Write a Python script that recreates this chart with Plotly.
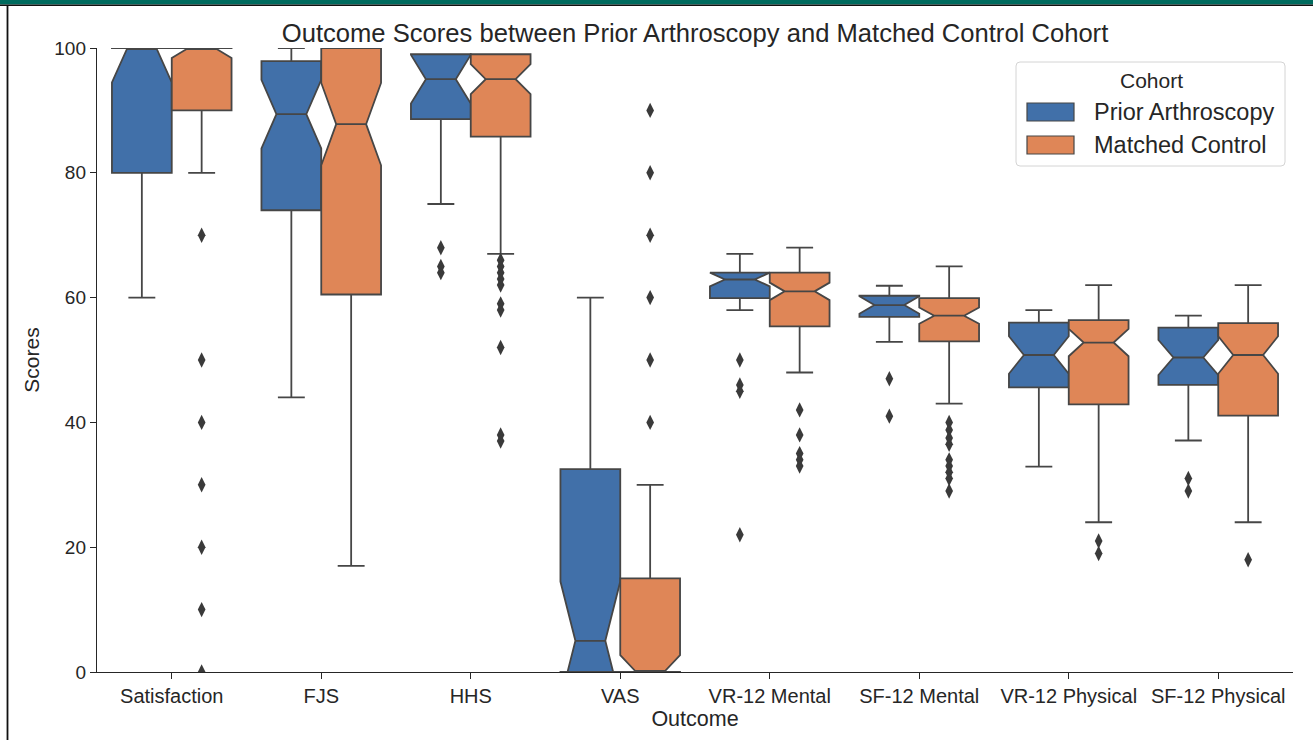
import plotly.graph_objects as go

categories = ["Satisfaction", "FJS", "HHS", "VAS", "VR-12 Mental", "SF-12 Mental",
              "VR-12 Physical", "SF-12 Physical"]
cohorts = ["Prior Arthroscopy", "Matched Control"]

# Prior Arthroscopy box statistics
pa_q1 = [80, 74, 88.6, 0, 59.9, 56.9, 45.6, 46.0]
pa_median = [100, 89.4, 95.0, 5.0, 62.9, 58.8, 50.8, 50.4]
pa_q3 = [100, 97.9, 99.0, 32.5, 64.0, 60.3, 56.0, 55.2]
pa_lower = [60, 44, 75, 0, 58, 52.9, 32.9, 37.1]
pa_upper = [100, 100, 99, 60, 67, 61.9, 58, 57.1]
pa_notch = [5.5, 5.5, 3.9, 9.5, 1.1, 1.4, 3.0, 2.8]
pa_outliers = [[], [], [68, 65, 64], [], [50, 46, 45, 22], [47, 41], [], [31, 29]]

# Matched Control box statistics
mc_q1 = [90, 60.5, 85.8, 0, 55.4, 53.0, 42.9, 41.1]
mc_median = [100, 87.8, 95.0, 0, 61.0, 57.1, 52.8, 50.8]
mc_q3 = [100, 100, 99.0, 15, 64.0, 59.9, 56.4, 55.9]
mc_lower = [80, 17, 67, 0, 48, 43, 24, 24]
mc_upper = [100, 100, 99, 30, 68, 65, 62, 62]
mc_notch = [1.6, 6.6, 2.4, 2.7, 1.4, 1.3, 2.2, 3.0]
mc_outliers = [[70, 50, 40, 30, 20, 10, 0], [], [66, 65, 64, 63, 62, 59, 58, 52, 38, 37],
               [90, 80, 70, 60, 50, 40], [42, 38, 35, 34, 33],
               [40, 38.8, 37.5, 36.5, 34, 33, 32, 31, 29], [21, 19], [18]]

colors = ["#4170A9", "#DF8657"]
edge = "#464646"
txt = "#262626"
font_family = "Liberation Sans, Arial, sans-serif"

fig = go.Figure()

offsets = [-0.2, 0.2]
stats = [
    (pa_q1, pa_median, pa_q3, pa_lower, pa_upper, pa_notch, pa_outliers),
    (mc_q1, mc_median, mc_q3, mc_lower, mc_upper, mc_notch, mc_outliers),
]
for k, (q1, med, q3, lo, up, notch, outl) in enumerate(stats):
    xs = [i + offsets[k] for i in range(len(categories))]
    fig.add_trace(go.Box(
        name=cohorts[k], x=xs, q1=q1, median=med, q3=q3,
        lowerfence=lo, upperfence=up, notched=True, notchspan=notch,
        notchwidth=0.25, width=0.4, whiskerwidth=0.45,
        fillcolor=colors[k], line=dict(color=edge, width=1.8),
        boxpoints=False, showlegend=False,
    ))
    ox, oy = [], []
    for i, vals in enumerate(outl):
        for v in vals:
            ox.append(i + offsets[k])
            oy.append(v)
    fig.add_trace(go.Scatter(
        x=ox, y=oy, mode="markers", showlegend=False,
        marker=dict(symbol="diamond-tall", size=11, color="#3a3a3a",
                    line=dict(width=0)),
    ))

# plot area in pixels: left 97, right 1293, top 48, bottom 672
L, R, T, B = 97, 1293, 48, 672
W, H = 1313, 740
pw, ph = R - L, B - T


def px(x):
    return (x - L) / pw


def py(y):
    return (B - y) / ph


def rounded_rect(x0, y0, x1, y1, r):
    return (f"M {px(x0 + r)},{py(y0)} L {px(x1 - r)},{py(y0)} "
            f"Q {px(x1)},{py(y0)} {px(x1)},{py(y0 + r)} "
            f"L {px(x1)},{py(y1 - r)} Q {px(x1)},{py(y1)} {px(x1 - r)},{py(y1)} "
            f"L {px(x0 + r)},{py(y1)} Q {px(x0)},{py(y1)} {px(x0)},{py(y1 - r)} "
            f"L {px(x0)},{py(y0 + r)} Q {px(x0)},{py(y0)} {px(x0 + r)},{py(y0)} Z")


shapes = [
    dict(type="rect", xref="paper", yref="paper", x0=px(0), x1=px(W), y0=py(0), y1=py(4.5),
         fillcolor="#006B5E", line=dict(width=0), layer="above"),
    dict(type="line", xref="paper", yref="paper", x0=px(0), x1=px(W), y0=py(5.2), y1=py(5.2),
         line=dict(color="#111111", width=1.5), layer="above"),
    dict(type="line", xref="paper", yref="paper", x0=px(7.5), x1=px(7.5), y0=py(5), y1=py(W),
         line=dict(color="#111111", width=1.8), layer="above"),
    # legend frame
    dict(type="path", xref="paper", yref="paper", path=rounded_rect(1016, 62, 1285, 166, 4),
         fillcolor="rgba(255,255,255,0.85)", line=dict(color="#d4d4d4", width=1), layer="above"),
]

annotations = [
    dict(text="Cohort", xref="paper", yref="paper", x=px(1151), y=py(80),
         xanchor="center", yanchor="middle", showarrow=False,
         font=dict(size=21, color=txt, family=font_family)),
]
patch_rows = [112, 145]
for k in range(2):
    yc = patch_rows[k]
    shapes.append(dict(type="rect", xref="paper", yref="paper",
                       x0=px(1027), x1=px(1074), y0=py(yc - 9), y1=py(yc + 9),
                       fillcolor=colors[k], line=dict(color=edge, width=1.2), layer="above"))
    annotations.append(dict(text=cohorts[k], xref="paper", yref="paper", x=px(1092), y=py(yc),
                            xanchor="left", yanchor="middle", showarrow=False,
                            font=dict(size=23.5, color=txt, family=font_family)))

fig.update_layout(
    width=W, height=H,
    margin=dict(l=L, r=W - R, t=T, b=H - B),
    paper_bgcolor="white", plot_bgcolor="white",
    boxmode="overlay",
    showlegend=False,
    font=dict(family=font_family, color=txt),
    title=dict(text="Outcome Scores between Prior Arthroscopy and Matched Control Cohort",
               x=0.5, xref="paper", y=1 - 33 / H, yref="container", yanchor="middle",
               font=dict(size=25.6, color=txt, family=font_family)),
    xaxis=dict(range=[-0.5, 7.5], tickmode="array", tickvals=list(range(len(categories))),
               ticktext=categories, showgrid=False, zeroline=False, showline=True,
               linecolor=txt, linewidth=1.4, ticks="outside", ticklen=6,
               tickwidth=1.3, tickcolor=txt,
               tickfont=dict(size=20, color=txt),
               title=dict(text="Outcome", font=dict(size=21.5, color=txt), standoff=4)),
    yaxis=dict(range=[0, 100], tickvals=[0, 20, 40, 60, 80, 100], showgrid=False,
               zeroline=False, showline=True, linecolor=txt, linewidth=1.4,
               ticks="outside", ticklen=6, tickwidth=1.3, tickcolor=txt,
               tickfont=dict(size=19, color=txt),
               title=dict(text="Scores", font=dict(size=21, color=txt), standoff=8)),
    shapes=shapes,
    annotations=annotations,
)

fig.write_html("out.html")
